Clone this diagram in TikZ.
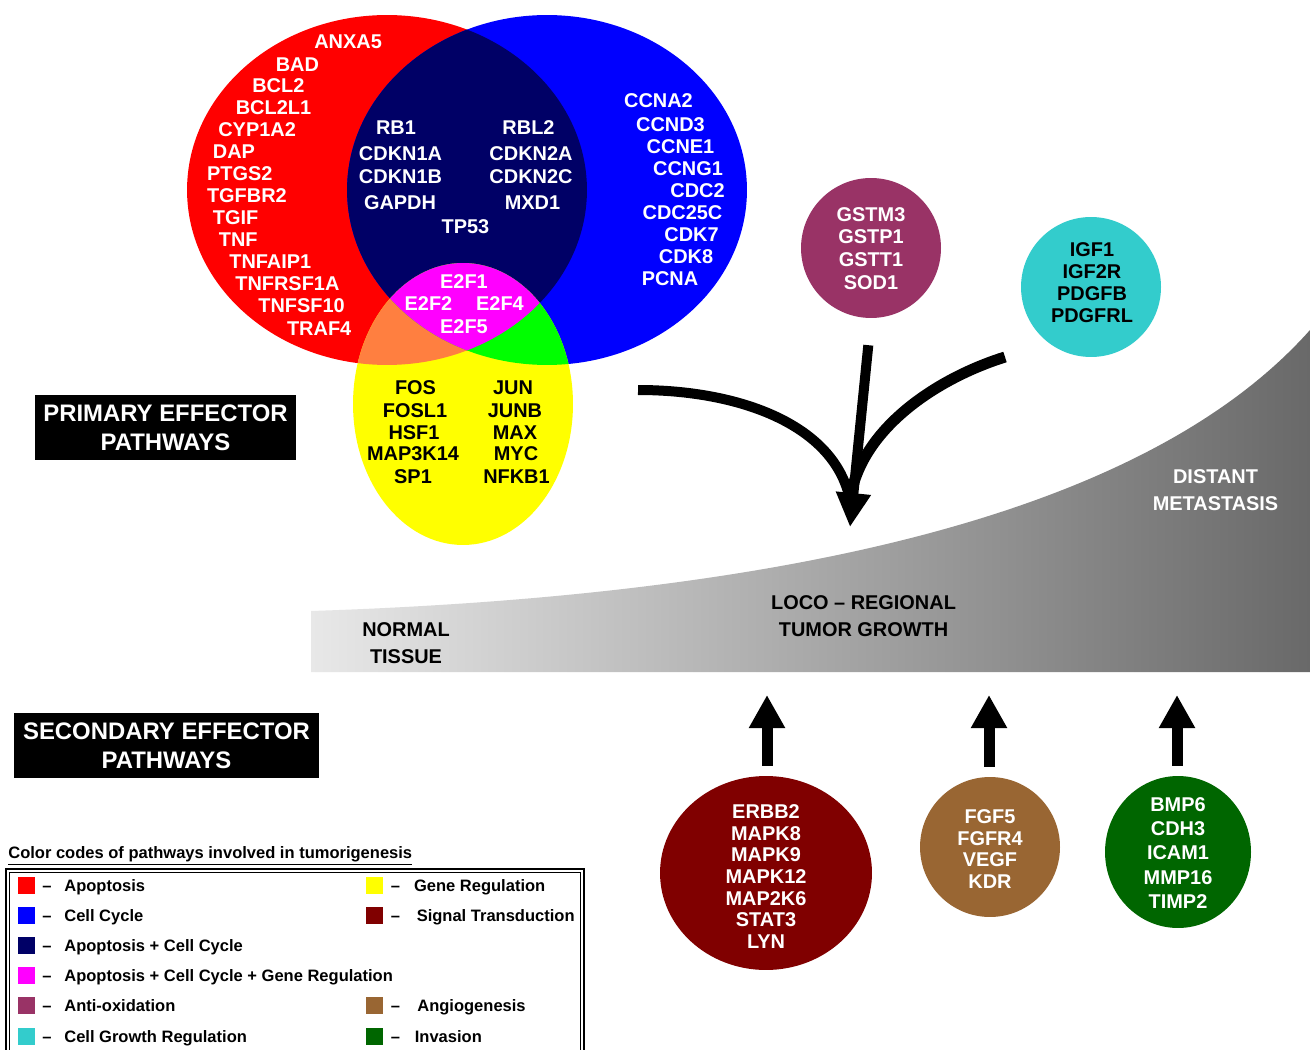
\documentclass[tikz,border=0pt]{standalone}
\usepackage{fontspec}
\setmainfont{Liberation Sans}
\usetikzlibrary{arrows.meta,shapes.geometric}
\definecolor{vred}{HTML}{FF0000}
\definecolor{vblue}{HTML}{0000FF}
\definecolor{vnavy}{HTML}{000066}
\definecolor{vmag}{HTML}{FF00FF}
\definecolor{vyel}{HTML}{FFFF00}
\definecolor{vorange}{HTML}{FF7F40}
\definecolor{vgreen}{HTML}{00FF00}
\definecolor{antiox}{HTML}{993366}
\definecolor{cgr}{HTML}{33CCCC}
\definecolor{sigtr}{HTML}{800000}
\definecolor{angio}{HTML}{996633}
\definecolor{invas}{HTML}{006600}
\definecolor{bandL}{HTML}{E8E8E8}
\definecolor{bandR}{HTML}{696969}
\newcommand\gfont{\fontsize{11.34pt}{12.47pt}\selectfont\bfseries}
\newcommand\bigfnt{\fontsize{13.6pt}{16.4pt}\selectfont\bfseries}
\newcommand\legfnt{\fontsize{9.4pt}{11pt}\selectfont\bfseries}
\tikzset{
  gene/.style={inner sep=0pt, font=\gfont, text=white},
  geneb/.style={inner sep=0pt, font=\gfont, text=black},
  blob/.style={ellipse, inner sep=0pt, draw=none},
  titlebox/.style={fill=black, text=white, font=\bigfnt, align=center, inner sep=0pt},
  bandtxt/.style={font=\fontsize{11.34pt}{15.3pt}\selectfont\bfseries, align=center, inner sep=0pt},
  swatch/.style={minimum size=0.34cm, inner sep=0pt, draw=none},
  legtxt/.style={font=\legfnt, inner sep=0pt, anchor=base west},
  legdash/.style={font=\legfnt, inner sep=0pt, anchor=base},
  uparrow/.style={line width=0.22cm, -{Triangle[width=0.68cm,length=0.66cm]}, shorten <=0.2cm},
  bigstroke/.style={line width=0.2cm}
}
\begin{document}
\begin{tikzpicture}[x=0.02cm,y=-0.02cm]
\useasboundingbox (0,0) rectangle (1310,1050);
\fill[white] (0,0) rectangle (1310,1050);

% ---------- Venn diagram ----------
\def\redE{(387,190) ellipse [x radius=4cm, y radius=3.5cm]}
\def\blueE{(547,190) ellipse [x radius=4cm, y radius=3.5cm]}
\def\yelE{(463,404) ellipse [x radius=2.2cm, y radius=2.82cm]}
\fill[vred] \redE;
\fill[vblue] \blueE;
\fill[vyel] \yelE;
\begin{scope}
  \clip \redE;
  \fill[vnavy] \blueE;
  \fill[vorange] \yelE;
\end{scope}
\begin{scope}
  \clip \blueE;
  \fill[vgreen] \yelE;
\end{scope}
\begin{scope}
  \clip \redE;
  \clip \blueE;
  \fill[vmag] \yelE;
\end{scope}

% red list
\foreach \t/\x/\y [count=\i] in {ANXA5/314/41.7, BAD/275.5/65, BCL2/252/85.7, BCL2L1/235.5/108,
  CYP1A2/218/130, DAP/212.6/152, PTGS2/206.7/174, TGFBR2/206.7/196, TGIF/212.6/218,
  TNF/218.5/240, TNFAIP1/229/262, TNFRSF1A/235/284, TNFSF10/258/306, TRAF4/286.7/329}
  \node[gene, anchor=west] (red\i) at (\x,\y) {\t};
% navy list
\foreach \t/\x/\y [count=\i] in {RB1/396/128, CDKN1A/400.5/154, CDKN1B/400.5/177, GAPDH/400/203,
  TP53/465.5/227, RBL2/528.5/128, CDKN2A/531/154, CDKN2C/531/177, MXD1/532.5/203}
  \node[gene] (navy\i) at (\x,\y) {\t};
% blue list
\foreach \t/\x/\y [count=\i] in {CCNA2/658.5/101, CCND3/670.5/125, CCNE1/680.5/147, CCNG1/688/169,
  CDC2/697.5/191, CDC25C/682.5/213, CDK7/691.5/235, CDK8/686/257, PCNA/670/279}
  \node[gene] (blue\i) at (\x,\y) {\t};
% magenta list
\foreach \t/\x/\y [count=\i] in {E2F1/464/282, E2F2/428.5/304, E2F4/500/304, E2F5/464/327}
  \node[gene] (mag\i) at (\x,\y) {\t};
% yellow list
\foreach \t/\x/\y [count=\i] in {FOS/415.5/388, FOSL1/415/411, HSF1/414/433, MAP3K14/413/454, SP1/413/477,
  JUN/513/388, JUNB/515/411, MAX/515/433, MYC/516/454, NFKB1/516.5/477}
  \node[geneb] (yel\i) at (\x,\y) {\t};

% ---------- title boxes ----------
\node[titlebox, minimum width=5.22cm, minimum height=1.3cm] (primary) at (165.5,427.5)
  {PRIMARY EFFECTOR\\PATHWAYS};
\node[titlebox, minimum width=6.1cm, minimum height=1.3cm] (secondary) at (166.5,745.5)
  {SECONDARY EFFECTOR\\PATHWAYS};

% ---------- progression band ----------
\shade[left color=bandL, right color=bandR]
  (311,672) -- (311,611) .. controls (800,595) and (1150,510) .. (1310,330) -- (1310,672) -- cycle;
\node[bandtxt, text=black] (normal) at (406,643.5) {NORMAL\\TISSUE};
\node[bandtxt, text=black] (loco) at (863.5,616.5) {LOCO – REGIONAL\\TUMOR GROWTH};
\node[bandtxt, text=white] (distant) at (1215.5,490) {DISTANT\\METASTASIS};

% ---------- upper circles ----------
\node[blob, fill=antiox, minimum width=2.8cm, minimum height=2.8cm] (gst) at (871,248) {};
\node[gene, align=center, font=\fontsize{11.34pt}{13pt}\selectfont\bfseries] (gsttxt) at (871,248.5)
  {GSTM3\\GSTP1\\GSTT1\\SOD1};
\node[blob, fill=cgr, minimum width=2.8cm, minimum height=2.8cm] (igf) at (1091,287) {};
\node[geneb, align=center] (igftxt) at (1092,283) {IGF1\\IGF2R\\PDGFB\\PDGFRL};

% ---------- converging arrows ----------
\coordinate (tip) at (850,527);
\coordinate (lstart) at (638,390);
\coordinate (rstart) at (1005,357);
\coordinate (merge) at (850,500);
\draw[bigstroke] (lstart) .. controls (740,390) and (835,425) .. (merge);
\draw[bigstroke, line width=0.22cm] (rstart) .. controls (935,379) and (860,430) .. (merge);
\draw[bigstroke, shorten <=0.54cm, -{Triangle[width=0.66cm,length=0.68cm]}] (gst.south) -- (tip);

% ---------- lower circles ----------
\node[blob, fill=sigtr, minimum width=4.24cm, minimum height=3.88cm] (sig) at (766,873) {};
\node[gene, align=center, font=\fontsize{11.34pt}{12.35pt}\selectfont\bfseries] (sigtxt) at (766,876.5)
  {ERBB2\\MAPK8\\MAPK9\\MAPK12\\MAP2K6\\STAT3\\LYN};
\node[blob, fill=angio, minimum width=2.8cm, minimum height=2.8cm] (ang) at (990,847) {};
\node[gene, align=center] (angtxt) at (990,849) {FGF5\\FGFR4\\VEGF\\KDR};
\node[blob, fill=invas, minimum width=2.92cm, minimum height=3.04cm] (inv) at (1178,852) {};
\node[gene, align=center, font=\fontsize{11.34pt}{13.9pt}\selectfont\bfseries] (invtxt) at (1178,853)
  {BMP6\\CDH3\\ICAM1\\MMP16\\TIMP2};

\coordinate (up1) at (767,695);
\coordinate (up2) at (989,695);
\coordinate (up3) at (1177,695);
\draw[uparrow] (sig.north -| up1) -- (up1);
\draw[uparrow] (ang.north -| up2) -- (up2);
\draw[uparrow] (inv.north -| up3) -- (up3);

% ---------- legend ----------
\node[legtxt] (legtitle) at (8,858) {\underline{Color codes of pathways involved in tumorigenesis}};
\draw[line width=0.7pt] (6,1052) -- (6,869) -- (584,869) -- (584,1052);
\draw[line width=0.7pt] (9.6,1052) -- (9.6,872.5) -- (580.4,872.5) -- (580.4,1052);

\foreach \c/\t/\y [count=\i] in {vred/Apoptosis/885.7, vblue/Cell Cycle/915.7,
  vnavy/Apoptosis + Cell Cycle/945.7, vmag/Apoptosis + Cell Cycle + Gene Regulation/975.7,
  antiox/Anti-oxidation/1005.7, cgr/Cell Growth Regulation/1036}
{
  \node[swatch, fill=\c] (ls\i) at (26.5,\y) {};
  \node[legdash] (ld\i) at (47,\y+6) {–};
  \node[legtxt] (lt\i) at (64,\y+6) {\t};
}
\foreach \c/\t/\y/\x [count=\i] in {vyel/Gene Regulation/885.7/413.7, sigtr/Signal Transduction/915.7/416.4,
  angio/Angiogenesis/1005.7/417, invas/Invasion/1036/414.5}
{
  \node[swatch, fill=\c] (rs\i) at (374,\y) {};
  \node[legdash] (rd\i) at (395.5,\y+6) {–};
  \node[legtxt] (rt\i) at (\x,\y+6) {\t};
}
\end{tikzpicture}
\end{document}
